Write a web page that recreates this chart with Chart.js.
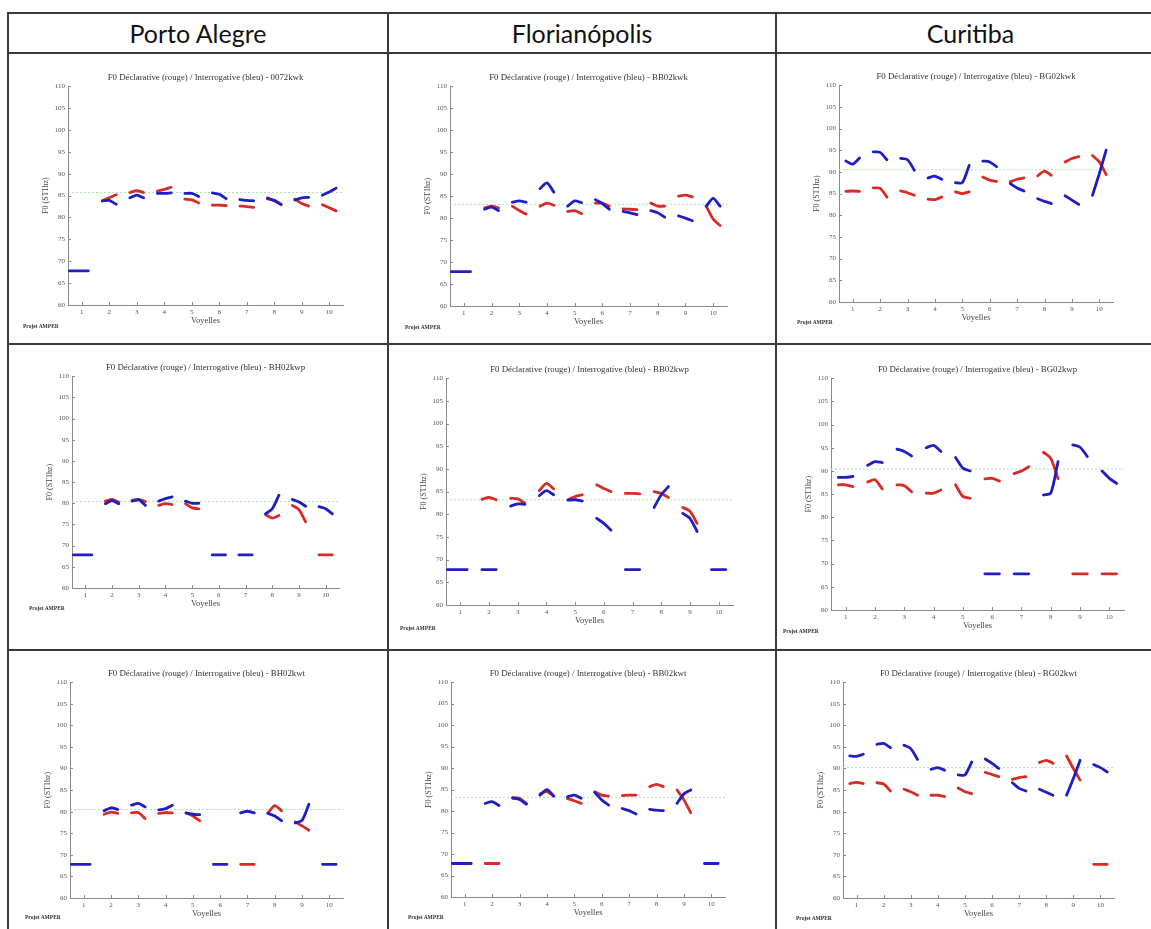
<!DOCTYPE html>
<html><head><meta charset="utf-8">
<script src="https://cdn.jsdelivr.net/npm/chart.js@4/dist/chart.umd.min.js"></script>
<style>
html,body{margin:0;padding:0;background:#fff;}
#page{position:relative;width:1151px;height:929px;overflow:hidden;background:#fff;}
.hl{position:absolute;height:2px;background:#3a3a3a;}
.vl{position:absolute;width:2px;background:#3a3a3a;}
.hdr{position:absolute;top:13px;height:40px;line-height:40px;text-align:center;font-family:Lato,sans-serif;font-size:25px;color:#111;}
canvas{position:absolute;}
.amper{position:absolute;font-family:"Liberation Serif",serif;font-size:5.5px;font-weight:bold;color:#333;white-space:nowrap;line-height:6px;}
</style></head><body><div id="page"></div>
<script>
// ---------- data ----------
const cities = ["Porto Alegre", "Florianópolis", "Curitiba"];
const vowels = [1, 2, 3, 4, 5, 6, 7, 8, 9, 10];
const yTicks = [60, 65, 70, 75, 80, 85, 90, 95, 100, 105, 110];
const titlePrefix = "F0 Déclarative (rouge) / Interrogative (bleu) - ";
const codes = ["0072kwk", "BB02kwk", "BG02kwk", "BH02kwp", "BB02kwp", "BG02kwp", "BH02kwt", "BB02kwt", "BG02kwt"];
const MISSING = [67.8, 67.8, 67.8];
const M = MISSING;

// Porto Alegre - kwk
const decl_0072kwk = [null, [83.8,84.5,85.2], [85.7,86.1,85.7], [86.0,86.4,86.9], [84.2,84.0,83.3], [82.8,82.8,82.7], [82.6,82.5,82.3], [84.5,83.8,82.9], [84.2,83.2,82.6], [82.9,82.2,81.5]];
const inter_0072kwk = [M, [83.8,83.9,83.0], [84.5,85.1,84.5], [85.5,85.5,85.6], [85.5,85.5,84.8], [85.6,85.3,84.3], [84.1,83.9,83.8], [84.3,83.9,83.0], [84.0,84.5,84.6], [85.1,85.8,86.7]];
const ref_0072kwk = 85.7;
// Florianópolis - kwk
const decl_BB02kwk = [null, [82.3,82.7,82.3], [82.7,81.7,80.9], [82.7,83.4,82.9], [81.5,81.7,81.0], [83.4,83.4,82.7], [82.1,82.0,81.9], [83.4,82.7,82.7], [85.0,85.2,84.8], [82.7,79.8,78.3]];
const inter_BB02kwk = [M, [82.0,82.5,81.7], [83.6,83.9,83.6], [86.7,88.0,85.9], [82.7,83.9,83.5], [84.2,83.3,82.0], [81.5,81.2,80.8], [81.7,81.2,80.2], [80.5,80.0,79.4], [82.7,84.5,82.7]];
const ref_BB02kwk = 83.1;
// Curitiba - kwk
const decl_BG02kwk = [[85.5,85.6,85.5], [86.3,86.2,84.2], [85.6,85.2,84.6], [83.7,83.6,84.2], [85.4,85.0,85.4], [88.8,88.1,87.8], [87.7,88.3,88.6], [89.1,90.2,89.2], [92.3,93.1,93.5], [93.8,92.3,89.4]];
const inter_BG02kwk = [[92.5,91.8,93.2], [94.6,94.5,92.8], [93.1,92.8,90.4], [88.6,89.0,88.3], [87.5,87.5,91.5], [92.5,92.3,91.2], [87.3,86.3,85.6], [83.8,83.2,82.7], [84.5,83.5,82.5], [84.6,89.6,95.0]];
const ref_BG02kwk = 90.5;
// Porto Alegre - kwp
const decl_BH02kwp = [null, [80.5,80.9,80.3], [80.7,80.9,80.4], [79.5,79.9,79.7], [79.9,78.9,78.7], null, null, [77.3,76.5,77.1], [79.5,78.5,75.6], M];
const inter_BH02kwp = [M, [79.9,80.6,79.9], [80.5,80.8,79.5], [80.5,81.1,81.5], [80.5,80.0,80.0], M, M, [77.5,78.7,81.9], [80.9,80.3,79.3], [79.2,78.7,77.5]];
const ref_BH02kwp = 80.4;
// Florianópolis - kwp
const decl_BB02kwp = [null, [83.3,83.7,83.2], [83.5,83.4,82.4], [85.2,86.8,85.6], [83.2,83.9,84.3], [86.5,85.7,85.0], [84.6,84.6,84.5], [85.0,84.6,83.7], [81.5,80.7,78.0], null];
const inter_BB02kwp = [M, M, [81.8,82.3,82.2], [84.1,85.2,84.3], [83.1,83.2,82.9], [79.1,78.0,76.5], M, [81.5,84.3,86.1], [80.2,79.1,76.2], M];
const ref_BB02kwp = 83.2;
// Curitiba - kwp
const decl_BG02kwp = [[87.0,87.0,86.6], [87.6,88.1,86.1], [87.0,86.8,85.5], [85.2,85.2,85.9], [87.0,84.5,84.1], [88.3,88.4,87.8], [89.4,90.0,90.9], [94.0,92.7,88.3], M, M];
const inter_BG02kwp = [[88.6,88.6,88.8], [91.2,92.0,91.8], [94.7,94.2,93.2], [95.0,95.5,94.2], [92.9,90.6,90.0], M, M, [84.8,85.2,92.0], [95.6,95.1,93.1], [90.0,88.4,87.3]];
const ref_BG02kwp = 90.4;
// Porto Alegre - kwt
const decl_BH02kwt = [null, [79.4,79.9,79.6], [79.7,79.8,78.4], [79.6,79.8,79.7], [79.7,79.0,77.9], null, M, [79.7,81.4,80.2], [77.6,76.7,75.7], null];
const inter_BH02kwt = [M, [80.2,80.9,80.5], [81.5,81.9,81.1], [80.4,80.7,81.5], [79.7,79.4,79.3], M, [79.7,80.1,79.7], [79.6,79.0,77.9], [77.4,78.0,81.7], M];
const ref_BH02kwt = 80.5;
// Florianópolis - kwt
const decl_BB02kwt = [null, M, [83.1,83.0,81.8], [84.0,84.5,83.5], [82.9,82.4,81.8], [84.5,83.7,83.5], [83.6,83.7,83.7], [85.7,86.2,85.7], [84.9,82.6,79.6], null];
const inter_BB02kwt = [M, [81.8,82.2,81.3], [83.0,82.7,81.6], [83.7,85.0,83.5], [83.3,83.7,83.0], [84.3,82.6,81.4], [80.6,80.1,79.3], [80.4,80.2,80.1], [81.8,84.0,84.9], M];
const ref_BB02kwt = 83.2;
// Curitiba - kwt
const decl_BG02kwt = [[86.5,86.8,86.5], [86.7,86.4,84.8], [85.2,84.6,83.8], [83.8,83.8,83.5], [85.5,84.6,84.2], [89.1,88.6,88.1], [87.5,87.9,88.1], [91.4,91.9,91.2], [92.9,90.0,87.3], M];
const inter_BG02kwt = [[92.9,92.8,93.3], [95.6,95.8,94.8], [95.4,94.6,92.1], [89.8,90.2,89.6], [88.5,88.5,91.5], [92.2,91.2,90.0], [86.7,85.4,84.8], [85.2,84.5,83.8], [83.8,87.7,91.9], [90.9,90.2,89.2]];
const ref_BG02kwt = 90.2;

const declSeries = [decl_0072kwk, decl_BB02kwk, decl_BG02kwk, decl_BH02kwp, decl_BB02kwp, decl_BG02kwp, decl_BH02kwt, decl_BB02kwt, decl_BG02kwt];
const interSeries = [inter_0072kwk, inter_BB02kwk, inter_BG02kwk, inter_BH02kwp, inter_BB02kwp, inter_BG02kwp, inter_BH02kwt, inter_BB02kwt, inter_BG02kwt];
const refLevels = [ref_0072kwk, ref_BB02kwk, ref_BG02kwk, ref_BH02kwp, ref_BB02kwp, ref_BG02kwp, ref_BH02kwt, ref_BB02kwt, ref_BG02kwt];

// ---------- layout (plot areas in page px: left, top, right, bottom) ----------
const areas = [
  [68, 86, 343, 305], [450, 86, 727, 306], [839, 85, 1113, 302],
  [72, 376, 339, 588], [446, 378, 733, 605], [831, 378, 1124, 610],
  [70, 682, 343, 898], [451, 682, 725, 897], [843, 682, 1114, 898]
];
const amperPos = [[23,323],[405,324],[797,319],[29,605],[400,625],[783,628],[25,914],[408,914],[796,915]];

const RED = '#d92b26', BLUE = '#1e1ec4', AX = '#8a8a8a', SERIF = '"Liberation Serif", "Times New Roman", serif';

const page = document.getElementById('page');
function addDiv(cls, style, text){const d=document.createElement('div');d.className=cls;Object.assign(d.style,style);if(text!==undefined)d.textContent=text;page.appendChild(d);return d;}

// table
addDiv('hl',{left:'8px',top:'12px',width:'1143px'});
addDiv('hl',{left:'8px',top:'52px',width:'1143px'});
addDiv('hl',{left:'8px',top:'343px',width:'1143px'});
addDiv('hl',{left:'8px',top:'649px',width:'1143px'});
addDiv('vl',{left:'7px',top:'12px',height:'917px'});
addDiv('vl',{left:'387px',top:'12px',height:'917px'});
addDiv('vl',{left:'775px',top:'12px',height:'917px'});
const colBounds = [[9,387],[389,775],[777,1164]];
cities.forEach((c,i)=>addDiv('hdr',{left:colBounds[i][0]+'px',width:(colBounds[i][1]-colBounds[i][0])+'px'},c));

function seriesPoints(segs){
  const pts=[];
  segs.forEach((s,i)=>{
    if(!s) return;
    const v=vowels[i];
    const offs = (i===0 && s===MISSING) ? [-0.45,-0.1,0.24] : [-0.25,0,0.25];
    s.forEach((y,k)=>pts.push({x:v+offs[k],y:y}));
    pts.push({x:v+0.5,y:null});
  });
  return pts;
}

const inwardTicks = {id:'inwardTicks', beforeDatasetsDraw(chart){
  const {ctx, chartArea:a, scales:{x,y}} = chart;
  ctx.save(); ctx.strokeStyle=AX; ctx.lineWidth=1; ctx.beginPath();
  yTicks.forEach(v=>{const py=Math.round(y.getPixelForValue(v))+0.5; ctx.moveTo(a.left,py); ctx.lineTo(a.left+3,py);});
  vowels.forEach(v=>{const px=Math.round(x.getPixelForValue(v))+0.5; ctx.moveTo(px,a.bottom); ctx.lineTo(px,a.bottom-3);});
  ctx.stroke(); ctx.restore();
}};

const YW=40, XH=22, TOPOFF=24, PADR=4;
areas.forEach((ar,k)=>{
  const [L,T,R,B]=ar;
  const cv=document.createElement('canvas');
  const w=YW+(R-L)+PADR, h=TOPOFF+(B-T)+XH;
  cv.width=w; cv.height=h;
  cv.style.left=(L-YW)+'px'; cv.style.top=(T-TOPOFF)+'px';
  cv.style.width=w+'px'; cv.style.height=h+'px';
  page.appendChild(cv);
  const lineDs=(data,color)=>({data, borderColor:color, borderWidth:2.8, pointRadius:0, tension:0.25, spanGaps:false, borderCapStyle:'round', borderJoinStyle:'round', fill:false});
  new Chart(cv,{
    type:'line',
    data:{datasets:[
      lineDs(seriesPoints(interSeries[k]),BLUE),
      lineDs(seriesPoints(declSeries[k]),RED),
      {data:[{x:0.5,y:refLevels[k]},{x:10.5,y:refLevels[k]}], borderColor:'#b3e0b3', borderWidth:1, borderDash:[2,2], pointRadius:0, fill:false}
    ]},
    options:{
      responsive:false, animation:false, devicePixelRatio:1, events:[],
      layout:{padding:{top:10.1,right:PADR,left:0,bottom:0}},
      plugins:{
        legend:{display:false}, tooltip:{enabled:false},
        title:{display:true, text:titlePrefix+codes[k], fullSize:false, font:{family:SERIF,size:8.8,weight:'normal'}, color:'#333', padding:{top:0,bottom:3.5}}
      },
      scales:{
        x:{type:'linear', min:0.5, max:10.5,
           afterFit:s=>{s.height=XH;},
           afterBuildTicks:s=>{s.ticks=vowels.map(v=>({value:v}));},
           grid:{display:true, drawOnChartArea:false, drawTicks:false},
           border:{display:true, color:AX, width:1},
           ticks:{font:{family:SERIF,size:7}, color:'#555', padding:3, autoSkip:false, maxRotation:0},
           title:{display:true, text:'Voyelles', font:{family:SERIF,size:8.5}, color:'#444', padding:{top:0,bottom:1.4}}},
        y:{type:'linear', min:60, max:110,
           afterFit:s=>{s.width=YW;},
           afterBuildTicks:s=>{s.ticks=yTicks.map(v=>({value:v}));},
           grid:{display:true, drawOnChartArea:false, drawTicks:false},
           border:{display:true, color:AX, width:1},
           ticks:{font:{family:SERIF,size:7}, color:'#555', padding:3},
           title:{display:true, text:'F0 (ST1hz)', font:{family:SERIF,size:8}, color:'#444', padding:{top:13.4,bottom:0}}}
      }
    },
    plugins:[inwardTicks]
  });
  addDiv('amper',{left:amperPos[k][0]+'px',top:amperPos[k][1]+'px'},'Projet AMPER');
});
</script>
</body></html>
